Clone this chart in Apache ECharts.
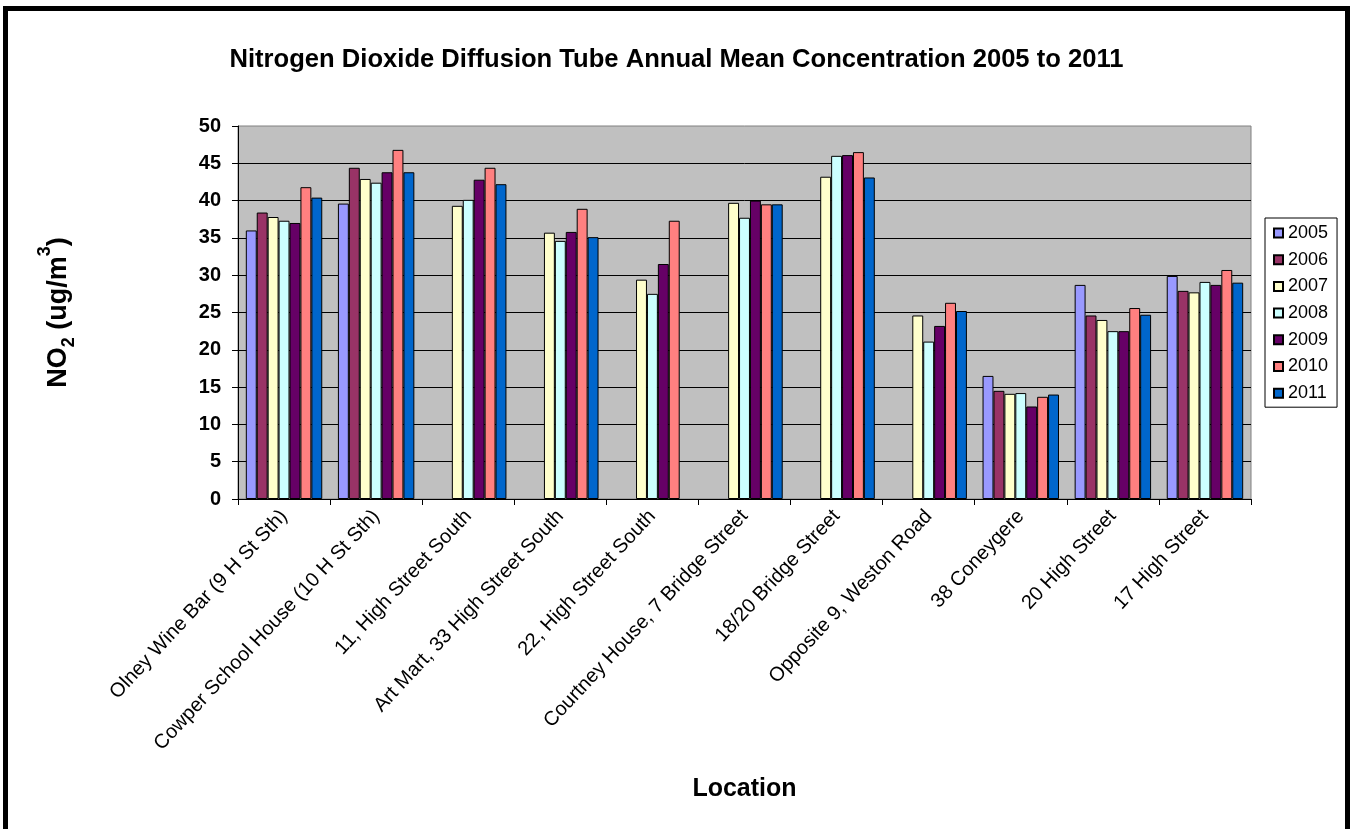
<!DOCTYPE html>
<html>
<head>
<meta charset="utf-8">
<script src="https://cdn.jsdelivr.net/npm/echarts@6/dist/echarts.min.js"></script>
<style>
  html, body { margin: 0; padding: 0; background: #fff; }
  #chart { width: 1353px; height: 829px; }
</style>
</head>
<body>
<div id="chart"></div>
<script>
// Monitoring locations along the category axis
const locations = [
  "Olney Wine Bar (9 H St Sth)",
  "Cowper School House (10 H St Sth)",
  "11, High Street South",
  "Art Mart, 33 High Street South",
  "22, High Street South",
  "Courtney House, 7 Bridge Street",
  "18/20 Bridge Street",
  "Opposite 9, Weston Road",
  "38 Coneygere",
  "20 High Street",
  "17 High Street"
];

// Annual mean NO2 (ug/m3) per year; null where the tube was not deployed
const years = ["2005", "2006", "2007", "2008", "2009", "2010", "2011"];
const no2_2005 = [36.0, 39.6, null, null, null, null, null, null, 16.5, 28.7, 29.9];
const no2_2006 = [38.4, 44.4, null, null, null, null, null, null, 14.5, 24.6, 27.9];
const no2_2007 = [37.8, 42.9, 39.3, 35.7, 29.4, 39.7, 43.2, 24.6, 14.1, 24.0, 27.7];
const no2_2008 = [37.3, 42.4, 40.1, 34.6, 27.5, 37.7, 46.0, 21.1, 14.2, 22.5, 29.1];
const no2_2009 = [37.0, 43.8, 42.8, 35.8, 31.5, 40.0, 46.1, 23.2, 12.4, 22.5, 28.7];
const no2_2010 = [41.8, 46.8, 44.4, 38.9, 37.3, 39.5, 46.5, 26.3, 13.7, 25.6, 30.7];
const no2_2011 = [40.4, 43.8, 42.2, 35.1, null, 39.5, 43.1, 25.2, 14.0, 24.7, 29.0];

// Y axis tick range
const yMin = 0, yMax = 50, yStep = 5;

const seriesData = [no2_2005, no2_2006, no2_2007, no2_2008, no2_2009, no2_2010, no2_2011];
const palette = ["#9999FF", "#993366", "#FFFFCC", "#CCFFFF", "#660066", "#FF8080", "#0066CC"];

const FONT = '"Liberation Sans", Arial, sans-serif';

const chart = echarts.init(document.getElementById('chart'), null, { renderer: 'canvas' });

chart.setOption({
  backgroundColor: '#ffffff',
  animation: false,
  textStyle: { fontFamily: FONT, color: '#000' },
  title: {
    text: 'Nitrogen Dioxide Diffusion Tube Annual Mean Concentration 2005 to 2011',
    left: 'center',
    top: 42,
    textStyle: { fontFamily: FONT, fontSize: 25.6, fontWeight: 'bold', color: '#000' }
  },
  legend: {
    orient: 'vertical',
    left: 1265,
    top: 218,
    padding: [6, 9, 5, 8],
    borderColor: '#000',
    borderWidth: 1,
    icon: 'rect',
    itemWidth: 9,
    itemHeight: 9,
    itemGap: 8.7,
    itemTextGap: 4,
    textStyle: { fontFamily: FONT, fontSize: 18, lineHeight: 18, color: '#000' },
    data: years
  },
  grid: {
    left: 238,
    top: 126,
    right: 102,
    bottom: 330,
    show: true,
    backgroundColor: '#C0C0C0',
    borderColor: '#808080',
    borderWidth: 1
  },
  xAxis: {
    type: 'category',
    data: locations,
    name: 'Location',
    nameLocation: 'middle',
    nameGap: 278,
    nameTextStyle: { fontFamily: FONT, fontSize: 25, fontWeight: 'bold', color: '#000' },
    axisLine: { show: true, lineStyle: { color: '#000', width: 1 } },
    axisTick: { show: true, length: 6, lineStyle: { color: '#000' } },
    axisLabel: {
      interval: 0,
      rotate: 47,
      margin: 14,
      fontFamily: FONT,
      fontSize: 20,
      color: '#000'
    },
    splitLine: { show: false }
  },
  yAxis: {
    type: 'value',
    min: yMin,
    max: yMax,
    interval: yStep,
    name: '{b|NO}{sub|2}{b| (ug/m}{sup|3}{b|)}',
    nameLocation: 'middle',
    nameGap: 166,
    nameRotate: 90,
    nameTextStyle: {
      fontFamily: FONT,
      color: '#000',
      rich: {
        b: { fontFamily: FONT, fontSize: 27, fontWeight: 'bold', color: '#000', lineHeight: 32, verticalAlign: 'bottom' },
        sub: { fontFamily: FONT, fontSize: 18, fontWeight: 'bold', color: '#000', lineHeight: 24, verticalAlign: 'bottom', padding: [0, 0, -6, 0] },
        sup: { fontFamily: FONT, fontSize: 18, fontWeight: 'bold', color: '#000', lineHeight: 24, verticalAlign: 'top', padding: [-4, 0, 0, 0] }
      }
    },
    axisLine: { show: true, lineStyle: { color: '#000', width: 1 } },
    axisTick: { show: true, length: 6, lineStyle: { color: '#000' } },
    axisLabel: {
      margin: 17,
      fontFamily: FONT,
      fontSize: 20,
      fontWeight: 'bold',
      color: '#000'
    },
    splitLine: { show: true, showMaxLine: false, lineStyle: { color: '#000', width: 1 } }
  },
  series: years.map((yr, i) => ({
    name: yr,
    type: 'bar',
    data: seriesData[i],
    barGap: '0%',
    barCategoryGap: '17%',
    itemStyle: { color: palette[i], borderColor: '#000', borderWidth: 1 }
  })),
  graphic: [{
    type: 'rect',
    silent: true,
    z: 100,
    shape: { x: 5.5, y: 8.5, width: 1342, height: 840 },
    style: { fill: 'none', stroke: '#000', lineWidth: 5 }
  }]
});
</script>
</body>
</html>
